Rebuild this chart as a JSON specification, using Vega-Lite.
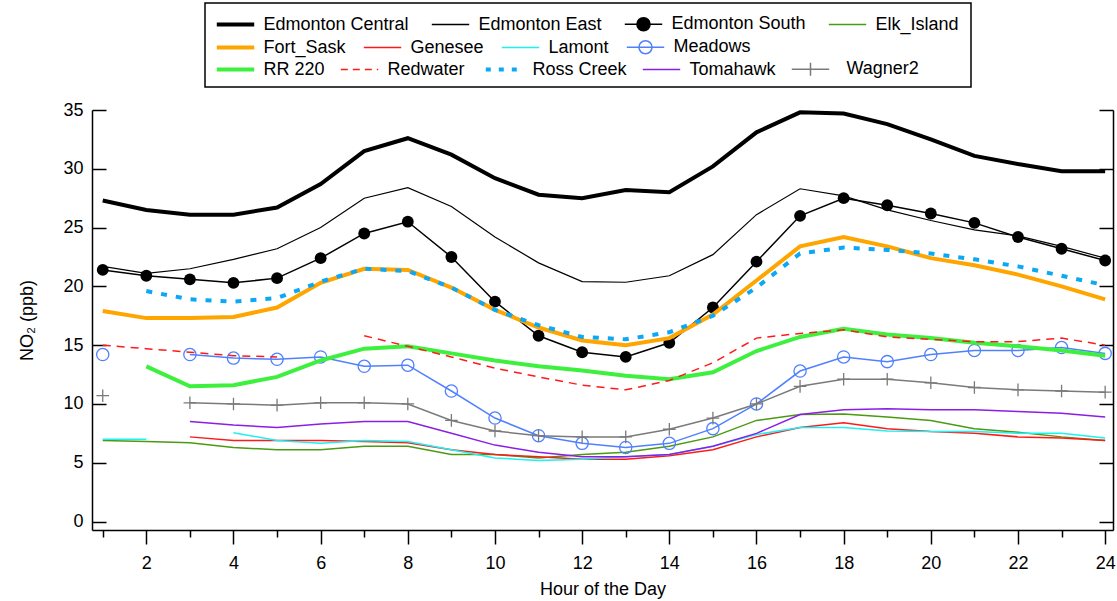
{
"$schema":"https://vega.github.io/schema/vega-lite/v6.json",
"width":1021,"height":420,
"autosize":{"type":"none"},
"padding":{"left":92,"top":110,"right":4,"bottom":71},
"config":{"view":{"stroke":null},"font":"Liberation Sans",
"axis":{"domainColor":"black","tickColor":"black","labelColor":"black","titleColor":"black","labelFontSize":18,"titleFontSize":18,"titleFontWeight":"normal","grid":false,"domainWidth":1.5,"tickWidth":1.5,"labelFlush":false,"labelOverlap":false},
"legend":{"labelFontSize":18,"labelColor":"black","labelLimit":400,"orient":"none","direction":"horizontal","columnPadding":14,"symbolType":"stroke","symbolSize":1400,"symbolStrokeWidth":1.5,"symbolOffset":9.5,"labelOffset":19,"symbolFillColor":"transparent"}},
"data":{"values":[
{"h":1,"s":"Edmonton Central","v":27.3},{"h":2,"s":"Edmonton Central","v":26.5},{"h":3,"s":"Edmonton Central","v":26.1},{"h":4,"s":"Edmonton Central","v":26.1},{"h":5,"s":"Edmonton Central","v":26.7},{"h":6,"s":"Edmonton Central","v":28.7},{"h":7,"s":"Edmonton Central","v":31.5},{"h":8,"s":"Edmonton Central","v":32.6},{"h":9,"s":"Edmonton Central","v":31.2},{"h":10,"s":"Edmonton Central","v":29.2},{"h":11,"s":"Edmonton Central","v":27.8},{"h":12,"s":"Edmonton Central","v":27.5},{"h":13,"s":"Edmonton Central","v":28.2},{"h":14,"s":"Edmonton Central","v":28.0},{"h":15,"s":"Edmonton Central","v":30.2},{"h":16,"s":"Edmonton Central","v":33.1},{"h":17,"s":"Edmonton Central","v":34.8},{"h":18,"s":"Edmonton Central","v":34.7},{"h":19,"s":"Edmonton Central","v":33.8},{"h":20,"s":"Edmonton Central","v":32.5},{"h":21,"s":"Edmonton Central","v":31.1},{"h":22,"s":"Edmonton Central","v":30.4},{"h":23,"s":"Edmonton Central","v":29.8},{"h":24,"s":"Edmonton Central","v":29.8},
{"h":1,"s":"Edmonton East","v":21.7},{"h":2,"s":"Edmonton East","v":21.1},{"h":3,"s":"Edmonton East","v":21.5},{"h":4,"s":"Edmonton East","v":22.3},{"h":5,"s":"Edmonton East","v":23.2},{"h":6,"s":"Edmonton East","v":25.0},{"h":7,"s":"Edmonton East","v":27.5},{"h":8,"s":"Edmonton East","v":28.4},{"h":9,"s":"Edmonton East","v":26.8},{"h":10,"s":"Edmonton East","v":24.2},{"h":11,"s":"Edmonton East","v":22.0},{"h":12,"s":"Edmonton East","v":20.4},{"h":13,"s":"Edmonton East","v":20.35},{"h":14,"s":"Edmonton East","v":20.9},{"h":15,"s":"Edmonton East","v":22.7},{"h":16,"s":"Edmonton East","v":26.1},{"h":17,"s":"Edmonton East","v":28.3},{"h":18,"s":"Edmonton East","v":27.7},{"h":19,"s":"Edmonton East","v":26.5},{"h":20,"s":"Edmonton East","v":25.6},{"h":21,"s":"Edmonton East","v":24.8},{"h":22,"s":"Edmonton East","v":24.3},{"h":23,"s":"Edmonton East","v":23.4},{"h":24,"s":"Edmonton East","v":22.4},
{"h":1,"s":"Edmonton South","v":21.4},{"h":2,"s":"Edmonton South","v":20.9},{"h":3,"s":"Edmonton South","v":20.6},{"h":4,"s":"Edmonton South","v":20.3},{"h":5,"s":"Edmonton South","v":20.7},{"h":6,"s":"Edmonton South","v":22.4},{"h":7,"s":"Edmonton South","v":24.5},{"h":8,"s":"Edmonton South","v":25.5},{"h":9,"s":"Edmonton South","v":22.5},{"h":10,"s":"Edmonton South","v":18.7},{"h":11,"s":"Edmonton South","v":15.8},{"h":12,"s":"Edmonton South","v":14.4},{"h":13,"s":"Edmonton South","v":14.0},{"h":14,"s":"Edmonton South","v":15.2},{"h":15,"s":"Edmonton South","v":18.2},{"h":16,"s":"Edmonton South","v":22.1},{"h":17,"s":"Edmonton South","v":26.0},{"h":18,"s":"Edmonton South","v":27.5},{"h":19,"s":"Edmonton South","v":26.9},{"h":20,"s":"Edmonton South","v":26.2},{"h":21,"s":"Edmonton South","v":25.4},{"h":22,"s":"Edmonton South","v":24.2},{"h":23,"s":"Edmonton South","v":23.2},{"h":24,"s":"Edmonton South","v":22.2},
{"h":1,"s":"Elk_Island","v":6.9},{"h":2,"s":"Elk_Island","v":6.8},{"h":3,"s":"Elk_Island","v":6.7},{"h":4,"s":"Elk_Island","v":6.3},{"h":5,"s":"Elk_Island","v":6.1},{"h":6,"s":"Elk_Island","v":6.1},{"h":7,"s":"Elk_Island","v":6.4},{"h":8,"s":"Elk_Island","v":6.4},{"h":9,"s":"Elk_Island","v":5.7},{"h":10,"s":"Elk_Island","v":5.7},{"h":11,"s":"Elk_Island","v":5.4},{"h":12,"s":"Elk_Island","v":5.7},{"h":13,"s":"Elk_Island","v":5.9},{"h":14,"s":"Elk_Island","v":6.4},{"h":15,"s":"Elk_Island","v":7.2},{"h":16,"s":"Elk_Island","v":8.6},{"h":17,"s":"Elk_Island","v":9.1},{"h":18,"s":"Elk_Island","v":9.15},{"h":19,"s":"Elk_Island","v":8.9},{"h":20,"s":"Elk_Island","v":8.6},{"h":21,"s":"Elk_Island","v":7.9},{"h":22,"s":"Elk_Island","v":7.6},{"h":23,"s":"Elk_Island","v":7.2},{"h":24,"s":"Elk_Island","v":6.9},
{"h":1,"s":"Fort_Sask","v":17.9},{"h":2,"s":"Fort_Sask","v":17.3},{"h":3,"s":"Fort_Sask","v":17.3},{"h":4,"s":"Fort_Sask","v":17.4},{"h":5,"s":"Fort_Sask","v":18.2},{"h":6,"s":"Fort_Sask","v":20.3},{"h":7,"s":"Fort_Sask","v":21.5},{"h":8,"s":"Fort_Sask","v":21.4},{"h":9,"s":"Fort_Sask","v":19.9},{"h":10,"s":"Fort_Sask","v":18.0},{"h":11,"s":"Fort_Sask","v":16.5},{"h":12,"s":"Fort_Sask","v":15.4},{"h":13,"s":"Fort_Sask","v":15.0},{"h":14,"s":"Fort_Sask","v":15.6},{"h":15,"s":"Fort_Sask","v":17.6},{"h":16,"s":"Fort_Sask","v":20.5},{"h":17,"s":"Fort_Sask","v":23.4},{"h":18,"s":"Fort_Sask","v":24.2},{"h":19,"s":"Fort_Sask","v":23.4},{"h":20,"s":"Fort_Sask","v":22.4},{"h":21,"s":"Fort_Sask","v":21.8},{"h":22,"s":"Fort_Sask","v":21.0},{"h":23,"s":"Fort_Sask","v":20.0},{"h":24,"s":"Fort_Sask","v":18.9},
{"h":3,"s":"Genesee","v":7.2},{"h":4,"s":"Genesee","v":6.9},{"h":5,"s":"Genesee","v":6.9},{"h":6,"s":"Genesee","v":6.9},{"h":7,"s":"Genesee","v":6.8},{"h":8,"s":"Genesee","v":6.7},{"h":9,"s":"Genesee","v":6.1},{"h":10,"s":"Genesee","v":5.7},{"h":11,"s":"Genesee","v":5.5},{"h":12,"s":"Genesee","v":5.3},{"h":13,"s":"Genesee","v":5.3},{"h":14,"s":"Genesee","v":5.6},{"h":15,"s":"Genesee","v":6.1},{"h":16,"s":"Genesee","v":7.2},{"h":17,"s":"Genesee","v":8.0},{"h":18,"s":"Genesee","v":8.4},{"h":19,"s":"Genesee","v":7.9},{"h":20,"s":"Genesee","v":7.65},{"h":21,"s":"Genesee","v":7.5},{"h":22,"s":"Genesee","v":7.2},{"h":23,"s":"Genesee","v":7.1},{"h":24,"s":"Genesee","v":6.9},
{"h":1,"s":"Lamont","v":7.0},{"h":2,"s":"Lamont","v":7.0},{"h":3,"s":"Lamont","v":null},{"h":4,"s":"Lamont","v":7.55},{"h":5,"s":"Lamont","v":6.9},{"h":6,"s":"Lamont","v":6.65},{"h":7,"s":"Lamont","v":6.9},{"h":8,"s":"Lamont","v":6.8},{"h":9,"s":"Lamont","v":6.1},{"h":10,"s":"Lamont","v":5.4},{"h":11,"s":"Lamont","v":5.2},{"h":12,"s":"Lamont","v":5.3},{"h":13,"s":"Lamont","v":5.5},{"h":14,"s":"Lamont","v":5.7},{"h":15,"s":"Lamont","v":6.4},{"h":16,"s":"Lamont","v":7.4},{"h":17,"s":"Lamont","v":8.0},{"h":18,"s":"Lamont","v":8.0},{"h":19,"s":"Lamont","v":7.7},{"h":20,"s":"Lamont","v":7.65},{"h":21,"s":"Lamont","v":7.65},{"h":22,"s":"Lamont","v":7.5},{"h":23,"s":"Lamont","v":7.5},{"h":24,"s":"Lamont","v":7.1},
{"h":1,"s":"Meadows","v":14.2},{"h":2,"s":"Meadows","v":null},{"h":3,"s":"Meadows","v":14.2},{"h":4,"s":"Meadows","v":13.9},{"h":5,"s":"Meadows","v":13.8},{"h":6,"s":"Meadows","v":14.0},{"h":7,"s":"Meadows","v":13.2},{"h":8,"s":"Meadows","v":13.3},{"h":9,"s":"Meadows","v":11.1},{"h":10,"s":"Meadows","v":8.8},{"h":11,"s":"Meadows","v":7.3},{"h":12,"s":"Meadows","v":6.65},{"h":13,"s":"Meadows","v":6.3},{"h":14,"s":"Meadows","v":6.65},{"h":15,"s":"Meadows","v":7.9},{"h":16,"s":"Meadows","v":10.0},{"h":17,"s":"Meadows","v":12.8},{"h":18,"s":"Meadows","v":14.0},{"h":19,"s":"Meadows","v":13.6},{"h":20,"s":"Meadows","v":14.2},{"h":21,"s":"Meadows","v":14.55},{"h":22,"s":"Meadows","v":14.55},{"h":23,"s":"Meadows","v":14.8},{"h":24,"s":"Meadows","v":14.3},
{"h":2,"s":"RR 220","v":13.2},{"h":3,"s":"RR 220","v":11.5},{"h":4,"s":"RR 220","v":11.6},{"h":5,"s":"RR 220","v":12.3},{"h":6,"s":"RR 220","v":13.7},{"h":7,"s":"RR 220","v":14.7},{"h":8,"s":"RR 220","v":14.9},{"h":9,"s":"RR 220","v":14.3},{"h":10,"s":"RR 220","v":13.7},{"h":11,"s":"RR 220","v":13.2},{"h":12,"s":"RR 220","v":12.85},{"h":13,"s":"RR 220","v":12.4},{"h":14,"s":"RR 220","v":12.1},{"h":15,"s":"RR 220","v":12.7},{"h":16,"s":"RR 220","v":14.5},{"h":17,"s":"RR 220","v":15.7},{"h":18,"s":"RR 220","v":16.4},{"h":19,"s":"RR 220","v":15.9},{"h":20,"s":"RR 220","v":15.6},{"h":21,"s":"RR 220","v":15.2},{"h":22,"s":"RR 220","v":14.9},{"h":23,"s":"RR 220","v":14.55},{"h":24,"s":"RR 220","v":14.1},
{"h":1,"s":"Redwater","v":15.0},{"h":2,"s":"Redwater","v":14.7},{"h":3,"s":"Redwater","v":14.4},{"h":4,"s":"Redwater","v":14.1},{"h":5,"s":"Redwater","v":14.0},{"h":6,"s":"Redwater","v":null},{"h":7,"s":"Redwater","v":15.8},{"h":8,"s":"Redwater","v":14.9},{"h":9,"s":"Redwater","v":14.0},{"h":10,"s":"Redwater","v":13.05},{"h":11,"s":"Redwater","v":12.3},{"h":12,"s":"Redwater","v":11.6},{"h":13,"s":"Redwater","v":11.2},{"h":14,"s":"Redwater","v":12.0},{"h":15,"s":"Redwater","v":13.5},{"h":16,"s":"Redwater","v":15.6},{"h":17,"s":"Redwater","v":16.0},{"h":18,"s":"Redwater","v":16.3},{"h":19,"s":"Redwater","v":15.7},{"h":20,"s":"Redwater","v":15.5},{"h":21,"s":"Redwater","v":15.3},{"h":22,"s":"Redwater","v":15.3},{"h":23,"s":"Redwater","v":15.6},{"h":24,"s":"Redwater","v":15.0},
{"h":2,"s":"Ross Creek","v":19.6},{"h":3,"s":"Ross Creek","v":18.9},{"h":4,"s":"Ross Creek","v":18.7},{"h":5,"s":"Ross Creek","v":19.0},{"h":6,"s":"Ross Creek","v":20.4},{"h":7,"s":"Ross Creek","v":21.5},{"h":8,"s":"Ross Creek","v":21.3},{"h":9,"s":"Ross Creek","v":19.9},{"h":10,"s":"Ross Creek","v":18.0},{"h":11,"s":"Ross Creek","v":16.7},{"h":12,"s":"Ross Creek","v":15.7},{"h":13,"s":"Ross Creek","v":15.5},{"h":14,"s":"Ross Creek","v":16.1},{"h":15,"s":"Ross Creek","v":17.5},{"h":16,"s":"Ross Creek","v":19.9},{"h":17,"s":"Ross Creek","v":22.8},{"h":18,"s":"Ross Creek","v":23.3},{"h":19,"s":"Ross Creek","v":23.1},{"h":20,"s":"Ross Creek","v":22.8},{"h":21,"s":"Ross Creek","v":22.3},{"h":22,"s":"Ross Creek","v":21.7},{"h":23,"s":"Ross Creek","v":20.9},{"h":24,"s":"Ross Creek","v":20.1},
{"h":3,"s":"Tomahawk","v":8.5},{"h":4,"s":"Tomahawk","v":8.2},{"h":5,"s":"Tomahawk","v":8.0},{"h":6,"s":"Tomahawk","v":8.3},{"h":7,"s":"Tomahawk","v":8.5},{"h":8,"s":"Tomahawk","v":8.5},{"h":9,"s":"Tomahawk","v":7.5},{"h":10,"s":"Tomahawk","v":6.5},{"h":11,"s":"Tomahawk","v":5.9},{"h":12,"s":"Tomahawk","v":5.5},{"h":13,"s":"Tomahawk","v":5.5},{"h":14,"s":"Tomahawk","v":5.7},{"h":15,"s":"Tomahawk","v":6.4},{"h":16,"s":"Tomahawk","v":7.5},{"h":17,"s":"Tomahawk","v":9.1},{"h":18,"s":"Tomahawk","v":9.5},{"h":19,"s":"Tomahawk","v":9.6},{"h":20,"s":"Tomahawk","v":9.5},{"h":21,"s":"Tomahawk","v":9.5},{"h":22,"s":"Tomahawk","v":9.35},{"h":23,"s":"Tomahawk","v":9.2},{"h":24,"s":"Tomahawk","v":8.9},
{"h":1,"s":"Wagner2","v":10.7},{"h":2,"s":"Wagner2","v":null},{"h":3,"s":"Wagner2","v":10.1},{"h":4,"s":"Wagner2","v":10.0},{"h":5,"s":"Wagner2","v":9.9},{"h":6,"s":"Wagner2","v":10.1},{"h":7,"s":"Wagner2","v":10.1},{"h":8,"s":"Wagner2","v":10.0},{"h":9,"s":"Wagner2","v":8.6},{"h":10,"s":"Wagner2","v":7.7},{"h":11,"s":"Wagner2","v":7.3},{"h":12,"s":"Wagner2","v":7.2},{"h":13,"s":"Wagner2","v":7.2},{"h":14,"s":"Wagner2","v":7.85},{"h":15,"s":"Wagner2","v":8.8},{"h":16,"s":"Wagner2","v":10.0},{"h":17,"s":"Wagner2","v":11.5},{"h":18,"s":"Wagner2","v":12.1},{"h":19,"s":"Wagner2","v":12.1},{"h":20,"s":"Wagner2","v":11.8},{"h":21,"s":"Wagner2","v":11.4},{"h":22,"s":"Wagner2","v":11.2},{"h":23,"s":"Wagner2","v":11.1},{"h":24,"s":"Wagner2","v":11.0}
]},
"layer":[
{
"transform":[{"filter":"indexof(['Edmonton Central','Edmonton East','Edmonton South','Elk_Island'], datum.s) >= 0"}],
"encoding":{
"x":{"field":"h","type":"quantitative","scale":{"domain":[0.754,24.18],"nice":false,"zero":false},
 "axis":{"orient":"bottom","values":[2,4,6,8,10,12,14,16,18,20,22,24],"tickSize":14,"labelPadding":10,"title":"Hour of the Day","titlePadding":8}},
"y":{"field":"v","type":"quantitative","scale":{"domain":[-0.72,35],"nice":false,"zero":false},
 "axis":{"orient":"left","values":[0,5,10,15,20,25,30,35],"tickSize":-14,"labelPadding":23,"title":"NO₂ (ppb)","titlePadding":26}},
"color":{"field":"s","type":"nominal",
 "scale":{"domain":["Edmonton Central","Edmonton East","Edmonton South","Elk_Island"],"range":["#000000","#000000","#000000","#4a9a12"]},
 "legend":{"title":[" "," "],"titleOrient":"bottom","titleFontSize":18,"titleLineHeight":20,"titlePadding":3,"legendX":113,"legendY":-107,"padding":12,"columnPadding":19,"strokeColor":"black",
  "encode":{"legend":{"update":{"strokeWidth":{"value":1.5}}},"symbols":{"update":{
   "strokeWidth":{"signal":"datum.value === 'Edmonton Central' ? 4 : 1.5"},
   "shape":{"signal":"datum.value === 'Edmonton South' ? 'M-1,0H1M-0.35,0A0.35,0.35,0,1,1,0.35,0A0.35,0.35,0,1,1,-0.35,0Z' : 'M-1,0H1'"},
   "fill":{"signal":"datum.value === 'Edmonton South' ? 'black' : 'transparent'"},
   "opacity":{"value":1}
  }}}}}
},
"layer":[
{"transform":[{"filter":"datum.s === 'Edmonton Central'"}],"mark":{"type":"line","strokeWidth":4,"invalid":"break-paths-show-domains"}},
{"transform":[{"filter":"datum.s === 'Edmonton East'"}],"mark":{"type":"line","strokeWidth":1.2,"invalid":"break-paths-show-domains"}},
{"transform":[{"filter":"datum.s === 'Edmonton South'"}],"mark":{"type":"line","strokeWidth":1.5,"invalid":"break-paths-show-domains"}},
{"transform":[{"filter":"datum.s === 'Edmonton South' && datum.v != null"}],"mark":{"type":"point","shape":"circle","filled":true,"size":140,"opacity":1}},
{"transform":[{"filter":"datum.s === 'Elk_Island'"}],"mark":{"type":"line","strokeWidth":1.5,"invalid":"break-paths-show-domains"}}
]
},
{
"transform":[{"filter":"indexof(['Fort_Sask','Genesee','Lamont','Meadows'], datum.s) >= 0"}],
"encoding":{
"x":{"field":"h","type":"quantitative","scale":{"domain":[0.754,24.18],"nice":false,"zero":false},"axis":null},
"y":{"field":"v","type":"quantitative","scale":{"domain":[-0.72,35],"nice":false,"zero":false},"axis":null},
"color":{"field":"s","type":"nominal",
 "scale":{"domain":["Fort_Sask","Genesee","Lamont","Meadows"],"range":["#ffa500","#ff1a1a","#1ff0f0","#5080ff"]},
 "legend":{"title":null,"legendX":125,"legendY":-72,"padding":0,"columnPadding":14,
  "encode":{"symbols":{"update":{
   "strokeWidth":{"signal":"datum.value === 'Fort_Sask' ? 4 : 1.5"},
   "shape":{"signal":"datum.value === 'Meadows' ? 'M-1,0H1M-0.35,0A0.35,0.35,0,1,1,0.35,0A0.35,0.35,0,1,1,-0.35,0Z' : 'M-1,0H1'"},
   "fill":{"value":"transparent"},
   "opacity":{"value":1}
  }}}}}
},
"layer":[
{"transform":[{"filter":"datum.s === 'Fort_Sask'"}],"mark":{"type":"line","strokeWidth":4,"invalid":"break-paths-show-domains"}},
{"transform":[{"filter":"datum.s === 'Genesee'"}],"mark":{"type":"line","strokeWidth":1.5,"invalid":"break-paths-show-domains"}},
{"transform":[{"filter":"datum.s === 'Lamont'"}],"mark":{"type":"line","strokeWidth":1.5,"invalid":"break-paths-show-domains"}},
{"transform":[{"filter":"datum.s === 'Meadows'"}],"mark":{"type":"line","strokeWidth":1.5,"invalid":"break-paths-show-domains"}},
{"transform":[{"filter":"datum.s === 'Meadows' && datum.v != null"}],"mark":{"type":"point","shape":"circle","filled":false,"size":150,"strokeWidth":1.3,"opacity":1},"encoding":{"color":{"value":"#5080ff"}}}
]
},
{
"transform":[{"filter":"indexof(['RR 220','Redwater','Ross Creek','Tomahawk','Wagner2'], datum.s) >= 0"}],
"encoding":{
"x":{"field":"h","type":"quantitative","scale":{"domain":[0.754,24.18],"nice":false,"zero":false},
 "axis":{"orient":"bottom","values":[1,3,5,7,9,11,13,15,17,19,21,23],"tickSize":7,"labels":false,"domain":false,"title":null}},
"y":{"field":"v","type":"quantitative","scale":{"domain":[-0.72,35],"nice":false,"zero":false},
 "axis":{"orient":"right","values":[0,5,10,15,20,25,30,35],"tickSize":-14,"labels":false,"title":null}},
"color":{"field":"s","type":"nominal",
 "scale":{"domain":["RR 220","Redwater","Ross Creek","Tomahawk","Wagner2"],"range":["#3ef03e","#ff1a1a","#0ca8f5","#8a1ee6","#7a7a7a"]},
 "legend":{"title":null,"legendX":125,"legendY":-50,"padding":0,"columnPadding":12,
  "encode":{"symbols":{"update":{
   "strokeWidth":{"signal":"(datum.value === 'RR 220' || datum.value === 'Ross Creek') ? 4 : 1.5"},
   "strokeDash":{"signal":"datum.value === 'Redwater' ? [7,5] : datum.value === 'Ross Creek' ? [5,8] : [1,0]"},
   "shape":{"signal":"datum.value === 'Wagner2' ? 'M-1,0H1M0,-0.35V0.35' : 'M-1,0H1'"},
   "fill":{"value":"transparent"},
   "opacity":{"value":1}
  }},"labels":{"update":{"dx":{"signal":"datum.value === 'Wagner2' ? 8 : 0"}}}}}}
},
"layer":[
{"transform":[{"filter":"datum.s === 'RR 220'"}],"mark":{"type":"line","strokeWidth":4,"invalid":"break-paths-show-domains"}},
{"transform":[{"filter":"datum.s === 'Redwater'"}],"mark":{"type":"line","strokeWidth":1.5,"strokeDash":[8,6],"invalid":"break-paths-show-domains"}},
{"transform":[{"filter":"datum.s === 'Ross Creek'"}],"mark":{"type":"line","strokeWidth":4,"strokeDash":[6,9],"invalid":"break-paths-show-domains"}},
{"transform":[{"filter":"datum.s === 'Tomahawk'"}],"mark":{"type":"line","strokeWidth":1.5,"invalid":"break-paths-show-domains"}},
{"transform":[{"filter":"datum.s === 'Wagner2'"}],"mark":{"type":"line","strokeWidth":1.5,"invalid":"break-paths-show-domains"}},
{"transform":[{"filter":"datum.s === 'Wagner2' && datum.v != null"}],"mark":{"type":"point","shape":"M-1,0H1M0,-1V1","filled":false,"size":160,"strokeWidth":1.3,"opacity":1},"encoding":{"color":{"value":"#7a7a7a"}}}
]
}
],
"resolve":{"scale":{"color":"independent"},"axis":{"x":"independent","y":"independent"}}
}
